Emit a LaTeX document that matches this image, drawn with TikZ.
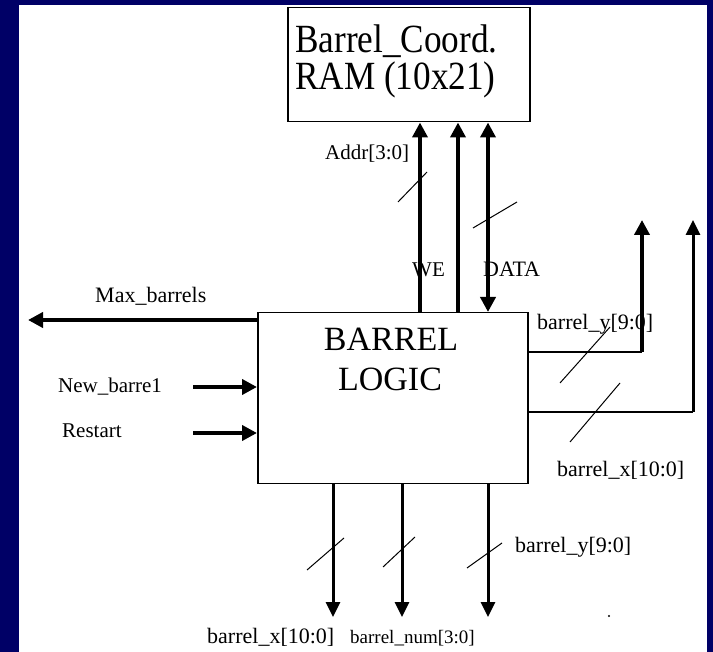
\documentclass[tikz,border=0pt]{standalone}
\usepackage{fontspec}
\usepackage{graphicx}
\setmainfont{Liberation Serif}
\usetikzlibrary{arrows.meta}
\definecolor{navybg}{RGB}{0,0,102}
\begin{document}
\begin{tikzpicture}[x=1pt,y=-1pt,
  boxline/.style={draw=black,line width=1.5pt,fill=white},
  lbl/.style={anchor=base west,inner sep=0pt,font=\fontsize{22}{26}\selectfont},
  lblsm/.style={anchor=base west,inner sep=0pt,font=\fontsize{21}{25}\selectfont},
  bigtxt/.style={anchor=base,inner sep=0pt,font=\fontsize{34}{40}\selectfont},
  bus/.style={line width=4pt,-{Triangle[width=15pt,length=15pt]}},
  busb/.style={line width=3pt,-{Triangle[width=14pt,length=15pt]}},
  dbus/.style={line width=4pt,{Triangle[width=15pt,length=15pt]}-{Triangle[width=15pt,length=15pt]}},
  wire/.style={line width=1.5pt},
  slashmark/.style={line width=1pt}
]
\useasboundingbox (0,0) rectangle (713,652);
\fill[navybg] (0,0) rectangle (713,652);
\fill[white] (19,5) rectangle (707,652);

% boxes
\node[boxline,anchor=north west,minimum width=242pt,minimum height=114pt] (ram) at (287,7) {};
\node[boxline,anchor=north west,minimum width=270pt,minimum height=171pt] (logic) at (257,312) {};

% box texts
\node[anchor=base west,inner sep=0pt,font=\fontsize{40}{46}\selectfont] (ramt1) at (295,53) {\scalebox{0.88}[1]{Barrel\_Coord.}};
\node[anchor=base west,inner sep=0pt,font=\fontsize{40}{46}\selectfont] (ramt2) at (295,90) {\scalebox{0.88}[1]{RAM (10x21)}};
\node[bigtxt] (lg1) at (391,351) {BARREL};
\node[bigtxt] (lg2) at (390,391) {LOGIC};

% labels
\node[lblsm] (addr) at (325,160) {Addr[3:0]};
\node[lblsm] (we) at (412,277) {WE};
\node[lbl] (data) at (483,277) {DATA};
\node[lbl] (maxb) at (95,303) {Max\_barrels};
\node[lblsm] (newb) at (58,393) {New\_barre1};
\node[lblsm] (rst) at (62,438) {Restart};
\node[lbl] (ry) at (537,330) {barrel\_y[9:0]};
\node[lbl] (rx) at (557,477) {barrel\_x[10:0]};
\node[lbl] (by) at (515,552) {barrel\_y[9:0]};
\node[lbl] (bx) at (207,643) {barrel\_x[10:0]};
\node[anchor=base west,inner sep=0pt,font=\fontsize{19}{23}\selectfont] (bn) at (350,643) {barrel\_num[3:0]};

% coordinates
\coordinate (c1) at (420,0);
\coordinate (c2) at (458,0);
\coordinate (c3) at (488,0);
\coordinate (mx) at (28,320);
\coordinate (nb) at (193,387);
\coordinate (rs) at (193,433);
\coordinate (k1) at (642,352);
\coordinate (t1) at (642,220);
\coordinate (k2) at (693,412);
\coordinate (t2) at (693,220);
\coordinate (d1) at (333,617);
\coordinate (d2) at (402,617);
\coordinate (d3) at (488,617);

% top buses
\draw[bus] (logic.north -| c1) -- (ram.south -| c1);
\draw[bus] (logic.north -| c2) -- (ram.south -| c2);
\draw[dbus] (logic.north -| c3) -- (ram.south -| c3);

% left
\draw[bus] (logic.west |- mx) -- (mx);
\draw[bus] (nb) -- (logic.west |- nb);
\draw[bus] (rs) -- (logic.west |- rs);

% right outputs
\draw[wire] (logic.east |- k1) -- (k1);
\draw[bus] (k1) -- (t1);
\draw[wire] (logic.east |- k2) -- (k2);
\draw[busb] (k2) -- (t2);

% bottom outputs
\draw[busb] (logic.south -| d1) -- (d1);
\draw[busb] (logic.south -| d2) -- (d2);
\draw[busb] (logic.south -| d3) -- (d3);

% bus width slashes
\draw[slashmark] (398,202) -- (427,172);
\draw[slashmark] (473,228) -- (517,202);
\draw[slashmark] (560,383) -- (610,327);
\draw[slashmark] (570,442) -- (620,383);
\draw[slashmark] (307,570) -- (344,538);
\draw[slashmark] (383,567) -- (415,537);
\draw[slashmark] (467,568) -- (502,543);

% stray dot
\fill[black] (609,616) circle (1.2pt);
\end{tikzpicture}
\end{document}
